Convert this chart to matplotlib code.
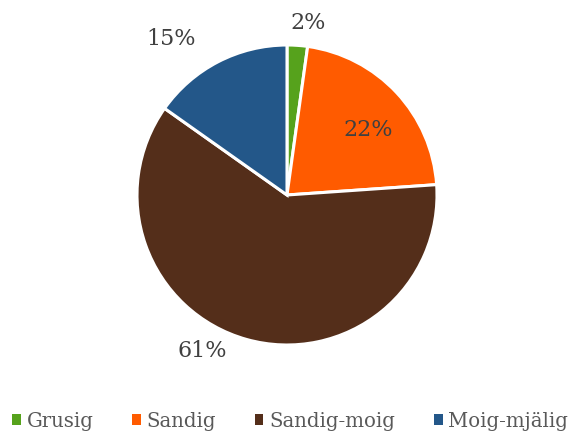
import numpy as np
import matplotlib.pyplot as plt
from matplotlib.patches import Patch

# data
kategorier = ['Grusig', 'Sandig', 'Sandig-moig', 'Moig-mjälig']
andel = [2.2, 21.7, 60.9, 15.2]
etiketter = ['2%', '22%', '61%', '15%']
farger = ['#56A21C', '#FF5B00', '#542E1A', '#235789']

plt.rcParams['font.family'] = ['DejaVu Serif']
textfarg = '#404040'

fig = plt.figure(figsize=(5.73, 4.35), dpi=100)
ax = fig.add_axes([137/573, 89/435, 300/573, 300/435])

wedges, _ = ax.pie(andel, colors=farger, startangle=90, counterclock=False,
                   radius=1, wedgeprops=dict(edgecolor='white', linewidth=2.2))
ax.set_xlim(-1, 1)
ax.set_ylim(-1, 1)
ax.set_aspect('equal')

# etikettplacering: (radie, vinkelförskjutning i grader)
placering = [(1.16, -3), (0.70, -4), (1.18, -13), (1.30, 9)]
for w, txt, (r, dv) in zip(wedges, etiketter, placering):
    vinkel = np.deg2rad((w.theta1 + w.theta2) / 2 + dv)
    ax.text(r * np.cos(vinkel), r * np.sin(vinkel), txt, ha='center', va='center',
            fontsize=16, color=textfarg)

handtag = [Patch(facecolor=f, edgecolor='none') for f in farger]
fig.legend(handtag, kategorier, loc='center', bbox_to_anchor=(290/573, 1 - 422/435),
           ncol=4, frameon=False, fontsize=14.2, labelcolor='#595959',
           handlelength=0.45, handleheight=0.45, handletextpad=0.3, columnspacing=1.95)

fig.savefig('out.png', dpi=100)
